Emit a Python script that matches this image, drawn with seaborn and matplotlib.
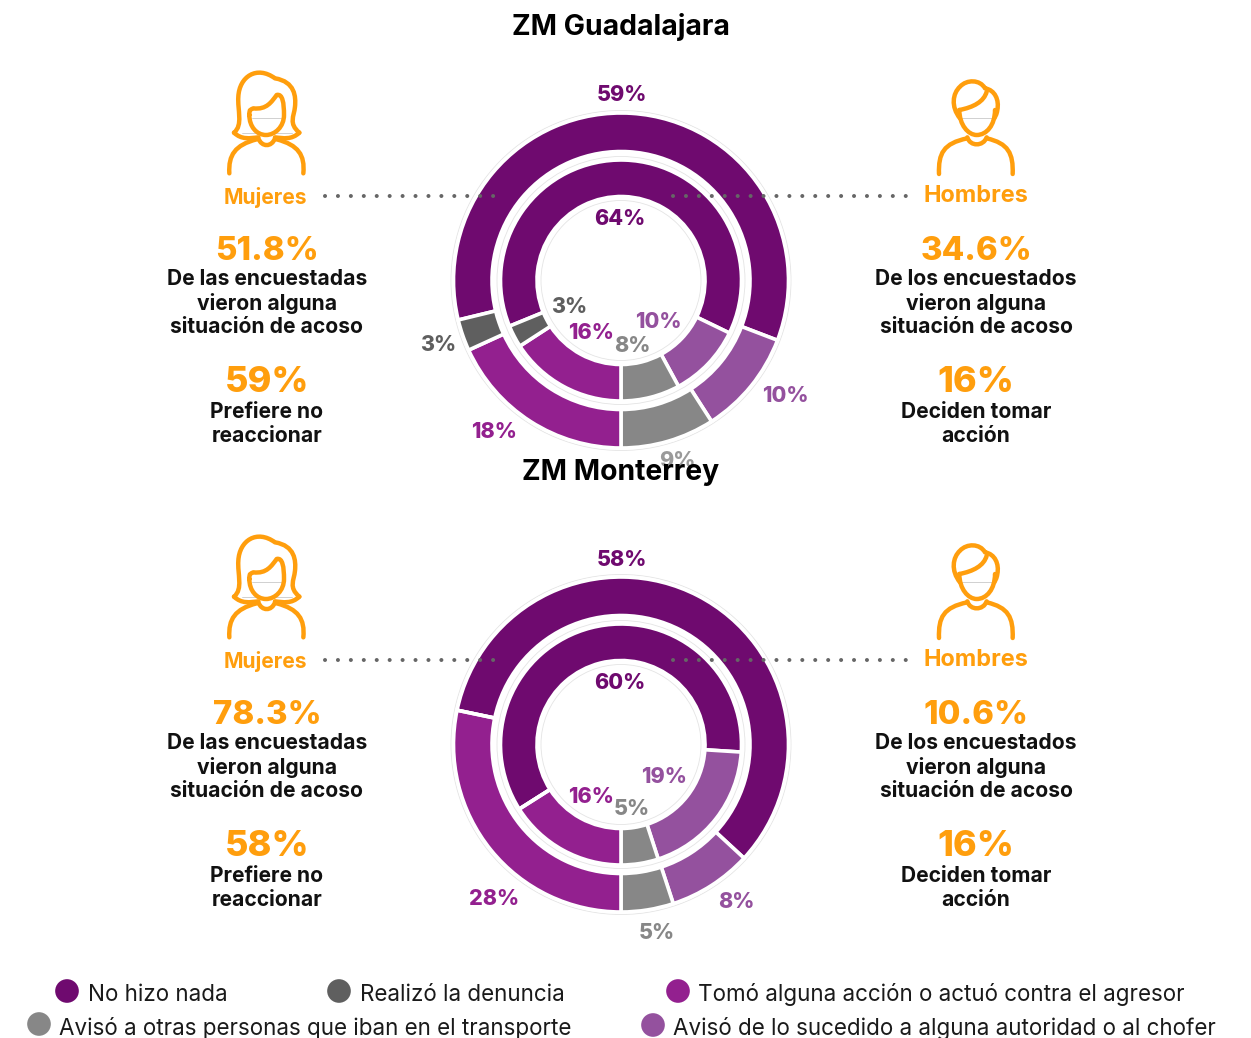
"""Donut charts: reaction to harassment on public transport, ZM Guadalajara and ZM Monterrey."""

import matplotlib
matplotlib.use("Agg")
import matplotlib.pyplot as plt
from matplotlib.patches import Circle, PathPatch
from matplotlib.path import Path
import seaborn as sns

W, H = 1251, 1038

# --- data ---
CATEGORIES = [
    "No hizo nada",
    "Aviso de lo sucedido",
    "Aviso a otras personas",
    "Tomo alguna accion",
    "Realizo la denuncia",
]
GDL_WOMEN = [59, 10, 9, 18, 3]
GDL_MEN = [64, 10, 8, 16, 3]
MTY_WOMEN = [58, 8, 5, 28, 0]
MTY_MEN = [60, 19, 5, 16, 0]

TITLES = ["ZM Guadalajara", "ZM Monterrey"]
WOMEN_SEEN = ["51.8%", "78.3%"]
MEN_SEEN = ["34.6%", "10.6%"]
WOMEN_BIG = ["59%", "58%"]
MEN_BIG = ["16%", "16%"]

LEGEND_LABELS = [
    "No hizo nada",
    "Realizó la denuncia",
    "Tomó alguna acción o actuó contra el agresor",
    "Avisó a otras personas que iban en el transporte",
    "Avisó de lo sucedido a alguna autoridad o al chofer",
]

# --- styles ---
DARK = "#6f0a6f"
DGREY = "#5f5f5f"
PURPLE = "#93208f"
GREY = "#878787"
LIGHT = "#94519e"
ORANGE = "#ff9e0d"
PALETTE = sns.color_palette([DARK, LIGHT, GREY, PURPLE, DGREY])
LEGEND_COLORS = [DARK, DGREY, PURPLE, GREY, LIGHT]

sns.set_theme(style="white")
plt.rcParams["font.family"] = ["Inter", "DejaVu Sans"]

fig = plt.figure(figsize=(W / 100, H / 100), dpi=100)
ax = fig.add_axes([0, 0, 1, 1])


def put(x, y, s, px, color="#111111", weight="bold", ha="center", zorder=5):
    # +2: Inter sits a little higher than the original font
    ax.text(x, H - y - 2, s, fontsize=px * 0.72, color=color, fontweight=weight,
            ha=ha, va="center", zorder=zorder)


def donut(values, cx, cy, r_out, r_in):
    # rings are rotated so that the grey/purple boundary sits at the bottom
    total = sum(values)
    start = 90 - (180 - sum(values[:3]) / total * 360)
    ax.pie(values, colors=PALETTE, center=(cx, H - cy), radius=r_out,
           startangle=start, counterclock=False,
           wedgeprops=dict(width=r_out - r_in, edgecolor="white", linewidth=2.6))


WOMAN_ICON = [
    # hair
    [(222, 218), (250, 195), (232, 150), (235, 110), (238, 50), (290, 15), (345, 55),
     (405, 65), (408, 110), (405, 140), (402, 170), (385, 190), (418, 218)],
    [(222, 218), (245, 240), (270, 235), (295, 232)],
    [(418, 218), (395, 240), (370, 235), (345, 232)],
    # face
    [(268, 165), (268, 145), (272, 150), (280, 145), (320, 150), (335, 125), (350, 105),
     (368, 100), (372, 130), (372, 165), (372, 200), (345, 225), (318, 225),
     (290, 225), (268, 200), (268, 165)],
    # neck
    [(295, 235), (305, 262), (335, 262), (345, 235)],
    # shoulders
    [(208, 340), (205, 285), (225, 255), (290, 238)],
    [(430, 340), (435, 285), (415, 255), (350, 238)],
]
MAN_ICON = [
    # hair
    [(240, 175), (212, 140), (218, 100), (240, 80), (260, 58), (300, 58), (315, 85),
     (345, 90), (358, 120), (352, 150), (350, 165), (345, 170), (343, 175)],
    [(238, 150), (280, 142), (312, 125), (320, 95)],
    # face
    [(238, 150), (238, 195), (265, 225), (290, 225), (320, 225), (345, 195), (345, 150)],
    # neck
    [(262, 232), (270, 260), (310, 260), (320, 232)],
    # shoulders
    [(177, 342), (175, 280), (190, 250), (262, 235)],
    [(398, 342), (400, 280), (385, 250), (320, 235)],
]


def icon(strokes, ox, oy, hairlines):
    for pts in strokes:
        xy = [(ox + x / 3, H - (oy + y / 3)) for x, y in pts]
        codes = [Path.MOVETO] + [Path.CURVE4] * (len(xy) - 1)
        ax.add_patch(PathPatch(Path(xy, codes), fill=False, edgecolor=ORANGE, lw=3.2,
                               capstyle="round", joinstyle="round", zorder=4))
    for (x0, y0), (x1, y1) in hairlines:
        ax.plot([ox + x0 / 3, ox + x1 / 3], [H - (oy + y0 / 3), H - (oy + y1 / 3)],
                color="#c9c9c9", lw=0.6, zorder=3)


# --- panels ---
rings = [(GDL_WOMEN, GDL_MEN), (MTY_WOMEN, MTY_MEN)]
outer_labels = [
    [("59%", 622, 93, DARK), ("10%", 785, 394, LIGHT), ("9%", 677, 459, "#9a9a9a"),
     ("18%", 494, 430, PURPLE), ("3%", 438, 343, DGREY)],
    [("58%", 622, 558, DARK), ("8%", 736, 900, LIGHT), ("5%", 657, 931, GREY),
     ("28%", 494, 897, PURPLE)],
]
inner_labels = [
    [("64%", 620, 217, DARK), ("10%", 658, 320, LIGHT), ("8%", 632, 344, GREY),
     ("16%", 591, 331, PURPLE), ("3%", 569, 305, DGREY)],
    [("60%", 620, 681, DARK), ("19%", 664, 775, LIGHT), ("5%", 632, 807, GREY),
     ("16%", 591, 795, PURPLE)],
]
title_y = [25, 470]
seen_f = ["De las encuestadas", "vieron alguna", "situación de acoso"]
seen_m = ["De los encuestados", "vieron alguna", "situación de acoso"]

for i, dy in enumerate([0, 464]):
    cy = 280.5 + dy
    for r in (170, 124, 80):
        ax.add_patch(Circle((621, H - cy), r, fill=False, edgecolor="#e4e4e4", lw=0.6, zorder=0))
    donut(rings[i][0], 621, cy, 167.5, 129)
    donut(rings[i][1], 621, cy, 120.5, 84)

    for s, x, y, c in outer_labels[i] + inner_labels[i]:
        put(x, y, s, 21.5, color=c, weight="heavy", zorder=6)
    put(621, title_y[i], TITLES[i], 28.3, color="black", zorder=7)

    # dotted leaders
    for x0, x1 in [(325, 495), (673, 908)]:
        ax.plot([x0, x1], [H - 196 - dy] * 2, color="#666666", lw=2.9,
                linestyle=(0, (0.01, 3.2)), dash_capstyle="round", zorder=4)

    icon(WOMAN_ICON, 160, 60 + dy, [((275, 175), (362, 175)), ((245, 220), (395, 220))])
    icon(MAN_ICON, 880, 60 + dy, [((245, 175), (340, 175))])

    put(265, 195 + dy, "Mujeres", 21, color=ORANGE)
    put(976, 194 + dy, "Hombres", 23.5, color=ORANGE)
    put(267, 249 + dy, WOMEN_SEEN[i], 33, color=ORANGE, weight="heavy")
    put(976, 249 + dy, MEN_SEEN[i], 33, color=ORANGE, weight="heavy")
    for k, yy in enumerate([277, 301, 325]):
        put(267, yy + dy, seen_f[k], 21)
        put(976, yy + dy, seen_m[k], 21)
    put(267, 381 + dy, WOMEN_BIG[i], 36, color=ORANGE, weight="heavy")
    put(976, 381 + dy, MEN_BIG[i], 36, color=ORANGE, weight="heavy")
    put(267, 410 + dy, "Prefiere no", 21)
    put(267, 434 + dy, "reaccionar", 21)
    put(976, 410 + dy, "Deciden tomar", 21)
    put(976, 434 + dy, "acción", 21)

# --- legend ---
dot_x = [67, 339, 678, 39, 653]
dot_y = [991, 991, 991, 1024, 1025]
text_x = [88, 360, 698, 59, 673]
text_y = [993, 993, 993, 1027, 1027]
sns.scatterplot(x=dot_x, y=[H - y for y in dot_y], hue=LEGEND_LABELS,
                palette=LEGEND_COLORS, s=290, linewidth=0, legend=False, ax=ax, zorder=5)
for x, y, s in zip(text_x, text_y, LEGEND_LABELS):
    put(x, y, s, 22.4, color="#1a1a1a", weight="normal", ha="left")

ax.set_xlim(0, W)
ax.set_ylim(0, H)
ax.set_aspect("equal")
ax.axis("off")

fig.savefig("out.png", dpi=100, facecolor="white")
